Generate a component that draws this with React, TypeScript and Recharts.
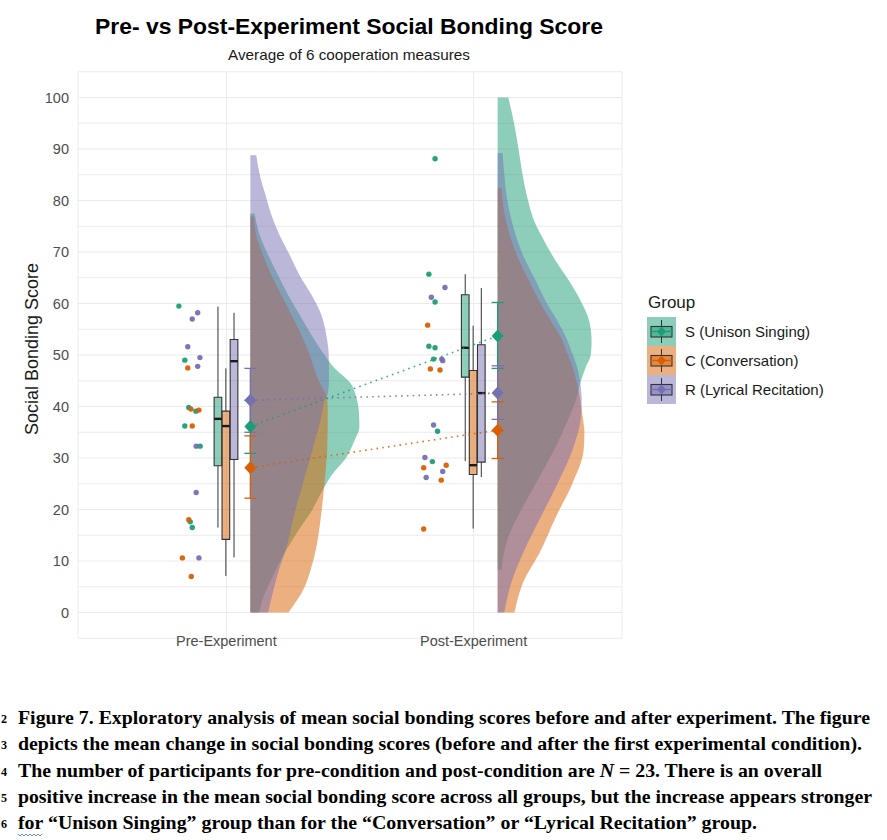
import React from 'react';
import {
  ComposedChart,
  Area,
  Scatter,
  XAxis,
  YAxis,
  CartesianGrid,
  ReferenceArea,
  ReferenceLine,
  ErrorBar,
} from 'recharts';

const FONT = '"Liberation Sans", Arial, sans-serif';
const SERIF = '"Liberation Serif", "Times New Roman", serif';

const COLORS = [
  '#1B9E77', // S - Dark2 green
  '#D95F02', // C - Dark2 orange
  '#7570B3', // R - Dark2 purple
];

const phases = ['Pre-Experiment', 'Post-Experiment'];
const groups = ['S (Unison Singing)', 'C (Conversation)', 'R (Lyrical Recitation)'];
const yTicks = [-5, 0, 5, 10, 15, 20, 25, 30, 35, 40, 45, 50, 55, 60, 65, 70, 75, 80, 85, 90, 95, 100, 105];

// individual participant scores
const preScoresS = [59.5, 49.0, 39.8, 39.1, 36.2, 32.3, 17.6, 16.5];
const preScoresC = [47.5, 39.5, 39.3, 36.2, 18.0, 10.6, 7.0];
const preScoresR = [58.2, 57.0, 51.6, 49.5, 47.8, 32.3, 23.3, 10.6];
const postScoresS = [88.1, 65.7, 60.3, 51.7, 51.4, 49.2, 35.2, 29.3];
const postScoresC = [55.8, 47.3, 47.1, 28.6, 28.1, 25.7, 16.2];
const postScoresR = [63.1, 61.2, 49.2, 48.9, 36.4, 30.1, 27.4, 26.2];

// horizontal jitter of the points (offset from the phase position)
const preJitterS = [-0.192, -0.168, -0.152, -0.123, -0.168, -0.106, -0.146, -0.138];
const preJitterC = [-0.156, -0.143, -0.111, -0.138, -0.152, -0.178, -0.142];
const preJitterR = [-0.116, -0.138, -0.156, -0.107, -0.116, -0.122, -0.122, -0.111];
const postJitterS = [-0.156, -0.181, -0.156, -0.181, -0.156, -0.162, -0.146, -0.167];
const postJitterC = [-0.186, -0.175, -0.136, -0.111, -0.202, -0.131, -0.202];
const postJitterR = [-0.116, -0.171, -0.129, -0.125, -0.162, -0.197, -0.125, -0.192];

// boxplot stats: [lower whisker, q1, median, q3, upper whisker]
const preBoxS = [16.5, 28.5, 37.6, 41.8, 59.4];
const preBoxC = [7.1, 14.2, 36.2, 39.1, 47.4];
const preBoxR = [10.7, 29.7, 48.8, 53.0, 58.2];
const postBoxS = [29.4, 45.7, 51.4, 61.7, 65.7];
const postBoxC = [16.3, 26.8, 28.6, 47.0, 55.7];
const postBoxR = [26.3, 29.2, 42.6, 52.0, 63.0];

// mean with error bar: [mean, low, high]
const preMeanS = [36.1, 30.9, 41.2];
const preMeanC = [28.1, 22.2, 34.3];
const preMeanR = [41.2, 35.0, 47.4];
const postMeanS = [53.7, 47.4, 60.2];
const postMeanC = [35.4, 29.9, 40.9];
const postMeanR = [42.6, 37.5, 47.9];

// half-violin outlines: [score, density width]
const preViolinS = [
  [77.5, 0.017], [73.3, 0.038], [69.4, 0.072], [65.5, 0.112], [61.7, 0.152], [57.8, 0.199],
  [53.9, 0.247], [50.0, 0.3], [47.5, 0.34], [44.6, 0.404], [42.0, 0.427], [39.0, 0.439],
  [36.0, 0.441], [33.5, 0.422], [29.6, 0.381], [27.0, 0.334], [24.4, 0.3], [20, 0.251],
  [15, 0.182], [10, 0.121], [6, 0.081], [3, 0.053], [0, 0.036],
];
const preViolinC = [
  [76.9, 0.015], [73.3, 0.024], [69.4, 0.051], [65.5, 0.085], [61.7, 0.125], [57.8, 0.166],
  [53.9, 0.206], [50.0, 0.24], [46.1, 0.267], [45.1, 0.276], [41.3, 0.311], [38.7, 0.313],
  [32.1, 0.311], [25.2, 0.3], [19.3, 0.287], [12.7, 0.267], [7.7, 0.24], [5.0, 0.22], [0, 0.154],
];
const preViolinR = [
  [88.8, 0.024], [85.0, 0.038], [81.1, 0.061], [77.2, 0.085], [73.3, 0.118], [69.4, 0.159],
  [65.5, 0.199], [61.7, 0.247], [57.8, 0.287], [53.9, 0.307], [50.0, 0.317], [45.5, 0.318],
  [42.6, 0.314], [41.3, 0.3], [38.7, 0.29], [32.1, 0.254], [25.2, 0.213], [19.3, 0.179],
  [12.7, 0.146], [7.7, 0.112], [5.0, 0.097], [0, 0.072],
];
const postViolinS = [
  [100, 0.043], [95.4, 0.065], [90.2, 0.084], [85.0, 0.101], [79.8, 0.124], [76.0, 0.148],
  [72.1, 0.189], [68.2, 0.236], [64.3, 0.29], [60.4, 0.337], [56.5, 0.371], [52.7, 0.38],
  [50.1, 0.377], [47.7, 0.357], [44.5, 0.334], [41.3, 0.317], [38.0, 0.29], [31.6, 0.229],
  [25.1, 0.155], [18.6, 0.081], [15.4, 0.049], [12.1, 0.028], [8.3, 0.016],
];
const postViolinC = [
  [82.4, 0.016], [79.8, 0.02], [76.0, 0.034], [72.1, 0.057], [68.2, 0.088], [64.3, 0.128],
  [60.4, 0.169], [56.5, 0.216], [52.7, 0.263], [51.0, 0.276], [47.7, 0.303], [44.5, 0.321],
  [41.3, 0.334], [38.0, 0.344], [34.8, 0.351], [31.6, 0.348], [25.1, 0.303], [18.6, 0.236],
  [12.1, 0.175], [5.6, 0.101], [0, 0.068],
];
const postViolinR = [
  [89.2, 0.02], [85.0, 0.027], [79.8, 0.04], [76.0, 0.057], [72.1, 0.081], [68.2, 0.114],
  [64.3, 0.155], [60.4, 0.195], [56.5, 0.243], [52.7, 0.283], [51.0, 0.296], [47.7, 0.321],
  [44.5, 0.334], [41.3, 0.34], [38.0, 0.337], [31.6, 0.303], [25.1, 0.243], [18.6, 0.175],
  [12.1, 0.108], [5.6, 0.054], [0, 0.027],
];

// dodge positions within a phase
const BOX_OFFSETS = [-0.034, -0.002, 0.031];
const BOX_HALF = 0.0155;
const MEAN_OFFSET = 0.097;

const scoreSets = [
  [preScoresS, preScoresC, preScoresR],
  [postScoresS, postScoresC, postScoresR],
];
const jitterSets = [
  [preJitterS, preJitterC, preJitterR],
  [postJitterS, postJitterC, postJitterR],
];
const boxStats = [
  [preBoxS, preBoxC, preBoxR],
  [postBoxS, postBoxC, postBoxR],
];
const meanStats = [
  [preMeanS, preMeanC, preMeanR],
  [postMeanS, postMeanC, postMeanR],
];

const violins = [
  { key: 'preS', phase: 0, group: 0, shape: preViolinS },
  { key: 'preC', phase: 0, group: 1, shape: preViolinC },
  { key: 'preR', phase: 0, group: 2, shape: preViolinR },
  { key: 'postS', phase: 1, group: 0, shape: postViolinS },
  { key: 'postC', phase: 1, group: 1, shape: postViolinC },
  { key: 'postR', phase: 1, group: 2, shape: postViolinR },
];

// one row per score level, each violin fills only its own levels
const levels = Array.from(new Set(violins.flatMap((vl) => vl.shape.map((p) => p[0])))).sort(
  (a, b) => b - a,
);
const violinRows = levels.map((v) => {
  const row: Record<string, number> = { v };
  violins.forEach((vl) => {
    const hit = vl.shape.find((p) => p[0] === v);
    if (hit) row[vl.key] = vl.phase + 1 + MEAN_OFFSET + hit[1];
  });
  return row;
});

const pointData = groups.map((_, g) =>
  scoreSets.flatMap((row, p) => row[g].map((s, i) => ({ x: p + 1 + jitterSets[p][g][i], v: s }))),
);

const meanData = groups.map((_, g) =>
  meanStats.map((row, p) => ({
    x: p + 1 + MEAN_OFFSET,
    v: row[g][0],
    err: [row[g][0] - row[g][1], row[g][2] - row[g][0]],
  })),
);

const captionLines = [
  { n: '2', parts: [['Figure 7. Exploratory analysis of mean social bonding scores before and after experiment. The figure', false]], end: 870 },
  { n: '3', parts: [['depicts the mean change in social bonding scores (before and after the first experimental condition).', false]], end: 862 },
  {
    n: '4',
    parts: [
      ['The number of participants for pre-condition and post-condition are ', false],
      ['N', true],
      [' = 23. There is an overall', false],
    ],
    end: 822,
  },
  { n: '5', parts: [['positive increase in the mean social bonding score across all groups, but the increase appears stronger', false]], end: 872 },
  { n: '6', parts: [['for \u201cUnison Singing\u201d group than for the \u201cConversation\u201d or \u201cLyrical Recitation\u201d group.', false]], end: 757 },
];

const dotShape = (color: string) => (p: any) => (
  <circle cx={p.cx} cy={p.cy} r={2.7} fill={color} fillOpacity={0.95} />
);

const diamondShape = (color: string) => (p: any) => (
  <path
    d={`M${p.cx},${p.cy - 6.5}L${p.cx + 6},${p.cy}L${p.cx},${p.cy + 6.5}L${p.cx - 6},${p.cy}Z`}
    fill={color}
  />
);

export default function App() {
  return (
    <div
      style={{
        position: 'absolute',
        left: 0,
        top: 0,
        width: 887,
        height: 840,
        background: '#fff',
        overflow: 'hidden',
      }}
    >
      <div style={{ position: 'absolute', left: 0, top: 0 }}>
        <ComposedChart
          width={887}
          height={700}
          layout="vertical"
          data={violinRows}
          margin={{ top: 71.75, right: 265, bottom: 31.75, left: 18 }}
          style={{ fontFamily: FONT }}
        >
          <CartesianGrid stroke="#EBEBEB" strokeWidth={1} />
          <XAxis
            type="number"
            dataKey="x"
            domain={[0.4, 2.6]}
            allowDataOverflow
            ticks={[1, 2]}
            tickFormatter={(t) => phases[t - 1] ?? ''}
            axisLine={false}
            tickLine={false}
            tickSize={0}
            tickMargin={4}
            height={30}
            tick={{ fill: '#4D4D4D', fontSize: 14.5, fontFamily: FONT, dy: -7 }}
          />
          <YAxis
            type="number"
            dataKey="v"
            domain={[-5, 105]}
            allowDataOverflow
            reversed
            ticks={yTicks}
            interval={0}
            tickFormatter={(t) => (t >= 0 && t % 10 === 0 ? String(t) : '')}
            axisLine={false}
            tickLine={false}
            tickSize={0}
            tickMargin={9}
            width={60}
            tick={{ fill: '#4D4D4D', fontSize: 14.5, fontFamily: FONT }}
          />

          {violins.map((vl) => (
            <Area
              key={vl.key}
              dataKey={vl.key}
              baseValue={vl.phase + 1 + MEAN_OFFSET}
              type="monotone"
              connectNulls
              fill={COLORS[vl.group]}
              fillOpacity={0.5}
              stroke="none"
              dot={false}
              activeDot={false}
              isAnimationActive={false}
            />
          ))}

          {boxStats.map((row, p) =>
            row.map((b, g) => {
              const cx = p + 1 + BOX_OFFSETS[g];
              return (
                <React.Fragment key={`box-${p}-${g}`}>
                  <ReferenceLine
                    segment={[{ x: cx, y: b[3] }, { x: cx, y: b[4] }]}
                    stroke="#333"
                    strokeWidth={1}
                  />
                  <ReferenceLine
                    segment={[{ x: cx, y: b[0] }, { x: cx, y: b[1] }]}
                    stroke="#333"
                    strokeWidth={1}
                  />
                  <ReferenceArea
                    x1={cx - BOX_HALF}
                    x2={cx + BOX_HALF}
                    y1={b[1]}
                    y2={b[3]}
                    fill={COLORS[g]}
                    fillOpacity={0.5}
                    stroke="#333"
                    strokeWidth={1.1}
                  />
                  <ReferenceLine
                    segment={[{ x: cx - BOX_HALF, y: b[2] }, { x: cx + BOX_HALF, y: b[2] }]}
                    stroke="#1a1a1a"
                    strokeWidth={2.4}
                  />
                </React.Fragment>
              );
            }),
          )}

          {groups.map((name, g) => (
            <Scatter
              key={`pts-${g}`}
              name={name}
              data={pointData[g]}
              fill={COLORS[g]}
              shape={dotShape(COLORS[g])}
              isAnimationActive={false}
            />
          ))}

          {groups.map((name, g) => (
            <Scatter
              key={`mean-${g}`}
              name={`${name} mean`}
              data={meanData[g]}
              fill={COLORS[g]}
              shape={diamondShape(COLORS[g])}
              line={{
                stroke: COLORS[g],
                strokeWidth: 1.6,
                strokeDasharray: '1.6 4.2',
                strokeOpacity: 0.85,
              }}
              lineType="joint"
              isAnimationActive={false}
            >
              <ErrorBar dataKey="err" direction="y" width={6} stroke={COLORS[g]} strokeWidth={1.3} />
            </Scatter>
          ))}
        </ComposedChart>
      </div>

      <svg
        width={887}
        height={840}
        style={{ position: 'absolute', left: 0, top: 0, pointerEvents: 'none' }}
      >
        <text
          x={349}
          y={34}
          textAnchor="middle"
          fontFamily={FONT}
          fontWeight="bold"
          fontSize={22}
          fill="#000"
          textLength={508}
          lengthAdjust="spacingAndGlyphs"
        >
          Pre- vs Post-Experiment Social Bonding Score
        </text>
        <text
          x={349}
          y={60}
          textAnchor="middle"
          fontFamily={FONT}
          fontSize={14.5}
          fill="#1a1a1a"
          textLength={242}
          lengthAdjust="spacingAndGlyphs"
        >
          Average of 6 cooperation measures
        </text>
        <text
          transform="translate(38,349) rotate(-90)"
          textAnchor="middle"
          fontFamily={FONT}
          fontSize={18}
          fill="#1a1a1a"
        >
          Social Bonding Score
        </text>

        {/* legend */}
        <text x={648} y={308} fontFamily={FONT} fontSize={17} fill="#1a1a1a">
          Group
        </text>
        {groups.map((name, g) => {
          const top = 317 + g * 29;
          const mid = top + 14.5;
          return (
            <g key={`leg-${g}`}>
              <rect x={647} y={top} width={29} height={29} fill={COLORS[g]} fillOpacity={0.5} />
              <line x1={661.5} x2={661.5} y1={top + 3} y2={top + 26} stroke="#333" strokeWidth={1} />
              <rect
                x={651}
                y={top + 9.5}
                width={21}
                height={10.5}
                fill={COLORS[g]}
                fillOpacity={0.5}
                stroke="#333"
                strokeWidth={1.1}
              />
              <line x1={651} x2={672} y1={mid} y2={mid} stroke={COLORS[g]} strokeWidth={1.3} />
              <path
                d={`M661.5,${mid - 5}L666,${mid}L661.5,${mid + 5}L657,${mid}Z`}
                fill={COLORS[g]}
              />
              <text x={685} y={mid + 5} fontFamily={FONT} fontSize={15} fill="#1a1a1a">
                {name}
              </text>
            </g>
          );
        })}

        {/* figure caption */}
        {captionLines.map((ln, i) => {
          const y = 724 + i * 26.3;
          return (
            <g key={`cap-${i}`}>
              <text x={1} y={y - 1} fontFamily={SERIF} fontWeight="bold" fontSize={12} fill="#000">
                {ln.n}
              </text>
              <text
                x={18}
                y={y}
                fontFamily={SERIF}
                fontWeight="bold"
                fontSize={19}
                fill="#000"
                textLength={ln.end - 18}
                lengthAdjust="spacingAndGlyphs"
              >
                {ln.parts.map((pt, j) => (
                  <tspan key={j} fontStyle={pt[1] ? 'italic' : 'normal'}>
                    {pt[0] as string}
                  </tspan>
                ))}
              </text>
            </g>
          );
        })}
        <path
          d="M18,834 l2,2 l2,-2 l2,2 l2,-2 l2,2 l2,-2 l2,2 l2,-2 l2,2 l2,-2 l2,2 l2,-2"
          fill="none"
          stroke="#4472C4"
          strokeWidth={0.8}
        />
      </svg>
    </div>
  );
}
